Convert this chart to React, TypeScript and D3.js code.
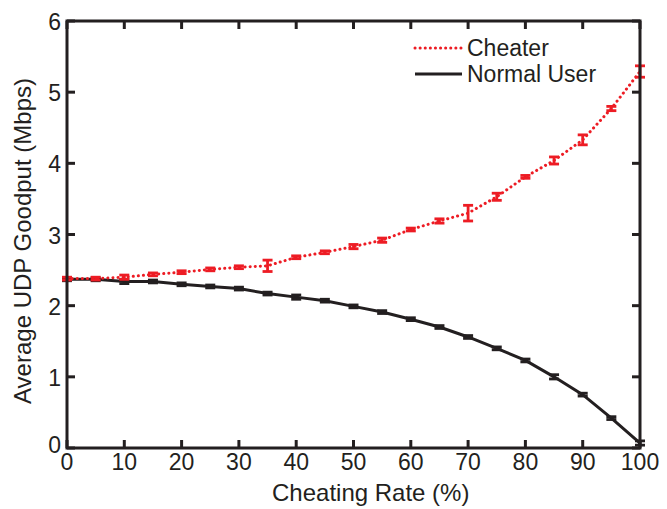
import React from 'react';
import * as d3 from 'd3';

const rates = [0, 5, 10, 15, 20, 25, 30, 35, 40, 45, 50, 55, 60, 65, 70, 75, 80, 85, 90, 95, 100];
const cheater = [2.38, 2.38, 2.40, 2.44, 2.47, 2.51, 2.54, 2.56, 2.68, 2.75, 2.83, 2.92, 3.07, 3.19, 3.30, 3.53, 3.81, 4.04, 4.33, 4.77, 5.29];
const cheaterErr = [0.02, 0.02, 0.03, 0.02, 0.02, 0.02, 0.02, 0.08, 0.02, 0.02, 0.03, 0.03, 0.02, 0.03, 0.11, 0.05, 0.02, 0.05, 0.07, 0.03, 0.08];
const normal = [2.37, 2.37, 2.34, 2.34, 2.30, 2.27, 2.24, 2.17, 2.12, 2.07, 1.99, 1.91, 1.81, 1.70, 1.56, 1.40, 1.23, 1.00, 0.75, 0.42, 0.07];
const normalErr = [0.02, 0.02, 0.03, 0.02, 0.02, 0.02, 0.02, 0.02, 0.03, 0.02, 0.02, 0.02, 0.02, 0.02, 0.02, 0.02, 0.02, 0.03, 0.02, 0.02, 0.03];
const xTicks = [0, 10, 20, 30, 40, 50, 60, 70, 80, 90, 100];
const yTicks = [0, 1, 2, 3, 4, 5, 6];

const RED = '#ed1c24';
const BLACK = '#231f20';

function App() {
    const left = 67, right = 640, top = 21, bottom = 448;
    const x = d3.scaleLinear().domain([0, 100]).range([left, right]);
    const y = d3.scaleLinear().domain([0, 6]).range([bottom, top]);

    const line = d3.line<number>()
        .x((d, i) => x(rates[i]))
        .y(d => y(d));

    const errorBars = (vals: number[], errs: number[], color: string) =>
        vals.map((v, i) => {
            const cx = x(rates[i]);
            const y1 = y(v + errs[i]);
            const y2 = y(v - errs[i]);
            return (
                <g key={i} stroke={color} strokeWidth={2.8}>
                    <line x1={cx} x2={cx} y1={y1} y2={y2} />
                    <line x1={cx - 5} x2={cx + 5} y1={y1} y2={y1} />
                    <line x1={cx - 5} x2={cx + 5} y1={y2} y2={y2} />
                </g>
            );
        });

    const font = '"Liberation Sans", Arial, Helvetica, sans-serif';

    return (
        <svg width={667} height={509} style={{ position: 'absolute', left: 0, top: 0 }} fontFamily={font}>
            <rect width={667} height={509} fill="white" />
            {/* ticks */}
            {xTicks.map(t => (
                <g key={'x' + t} stroke={BLACK} strokeWidth={3}>
                    <line x1={x(t)} x2={x(t)} y1={bottom} y2={bottom - 8} />
                    <line x1={x(t)} x2={x(t)} y1={top} y2={top + 8} />
                </g>
            ))}
            {yTicks.map(t => (
                <g key={'y' + t} stroke={BLACK} strokeWidth={3}>
                    <line x1={left} x2={left + 8} y1={y(t)} y2={y(t)} />
                    <line x1={right} x2={right - 8} y1={y(t)} y2={y(t)} />
                </g>
            ))}
            {xTicks.map(t => (
                <text key={'xl' + t} x={x(t)} y={bottom + 22} textAnchor="middle" fontSize={23} fill={BLACK}>{t}</text>
            ))}
            {yTicks.map(t => (
                <text key={'yl' + t} x={left - 6} y={t === 0 ? bottom + 5 : y(t) + 9} textAnchor="end" fontSize={23} fill={BLACK}>{t}</text>
            ))}
            {/* series */}
            <path d={line(normal) || ''} fill="none" stroke={BLACK} strokeWidth={3} />
            {errorBars(normal, normalErr, BLACK)}
            <path d={line(cheater) || ''} fill="none" stroke={RED} strokeWidth={3} strokeDasharray="0.1 5" strokeLinecap="round" />
            {errorBars(cheater, cheaterErr, RED)}
            {/* frame */}
            <rect x={left} y={top} width={right - left} height={bottom - top} fill="none" stroke={BLACK} strokeWidth={3} />
            {/* legend */}
            <line x1={415} x2={462} y1={48} y2={48} stroke={RED} strokeWidth={3} strokeDasharray="0.1 5" strokeLinecap="round" />
            <text x={467} y={56} fontSize={23} fill={BLACK}>Cheater</text>
            <line x1={415} x2={462} y1={74} y2={74} stroke={BLACK} strokeWidth={3} />
            <text x={467} y={82} fontSize={23} fill={BLACK}>Normal User</text>
            {/* axis labels */}
            <text x={272} y={501} fontSize={24} fill={BLACK}>Cheating Rate (%)</text>
            <text transform={`translate(31, 241) rotate(-90)`} textAnchor="middle" fontSize={24} fill={BLACK}>Average UDP Goodput (Mbps)</text>
        </svg>
    );
}

export default App;
